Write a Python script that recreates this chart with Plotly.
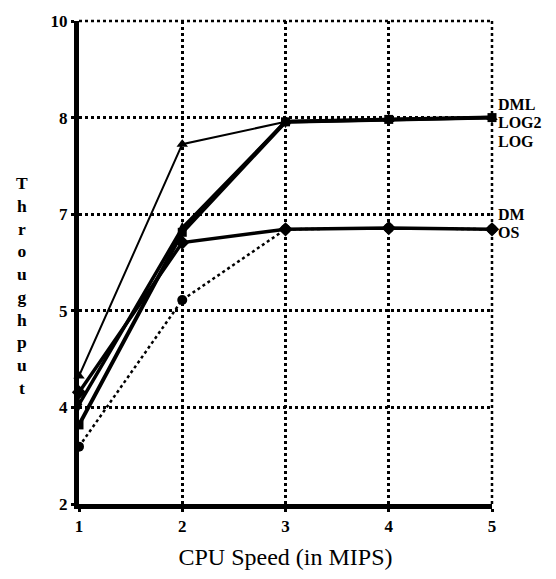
import plotly.graph_objects as go

cpu_speed = [1, 2, 3, 4, 5]
dml = [4.12, 7.96, 8.33, 8.37, 8.40]
log2 = [3.65, 6.57, 8.33, 8.37, 8.40]
log = [3.31, 6.50, 8.33, 8.37, 8.40]
dm = [3.85, 6.33, 6.55, 6.57, 6.55]
os_ = [2.95, 5.38, 6.55, 6.57, 6.55]

y_tickvals = [2, 3.6, 5.2, 6.8, 8.4, 10]
y_ticktext = ["2", "4", "5", "7", "8", "10"]
x_tickvals = [1, 2, 3, 4, 5]

label_names = ["DML", "LOG2", "LOG", "DM", "OS"]
label_y = [8.62, 8.32, 8.01, 6.8, 6.49]

y_title = "Throughput"

# plot area in pixels
L, R, T, B = 79, 64, 15, 74
W, H = 556, 579
PW, PH = W - L - R, H - T - B

fig = go.Figure()

def add(y, width, dash, symbol, size):
    fig.add_trace(go.Scatter(
        x=cpu_speed, y=y, mode="lines+markers",
        line=dict(color="black", width=width, dash=dash),
        marker=dict(color="black", symbol=symbol, size=size),
        cliponaxis=False, showlegend=False))

add(os_, 2.5, "dot", "circle", 10)
add(dm, 3.5, "solid", "diamond", 11)
add(log, 4, "solid", "square", 9)
add(log2, 3.5, "solid", "diamond-tall", 9)
add(dml, 2, "solid", "triangle-up", 10)

serif = "Liberation Serif"

for name, yy in zip(label_names, label_y):
    fig.add_annotation(x=1, xref="paper", y=yy, yref="y", text="<b>%s</b>" % name,
                       showarrow=False, xanchor="left", xshift=4,
                       font=dict(family=serif, size=16, color="black"))

# stacked vertical title
center_px = 182 + 4.5 * 22.5
fig.add_annotation(x=(22 - L) / PW, xref="paper", y=(H - B - center_px) / PH, yref="paper",
                   text="<b>" + "<br>".join(list(y_title)) + "</b>", showarrow=False,
                   xanchor="center", yanchor="middle", align="center",
                   font=dict(family=serif, size=17.5, color="black"))

fig.update_xaxes(range=[1, 5], tickvals=x_tickvals, ticktext=["<b>%s</b>" % v for v in x_tickvals],
                 showgrid=True, gridcolor="black", gridwidth=2.5, griddash="dot",
                 showline=True, linecolor="black", linewidth=5,
                 ticks="outside", ticklen=3, tickwidth=3, tickcolor="black",
                 tickfont=dict(family=serif, size=17, color="black"),
                 title=dict(text="CPU Speed (in MIPS)", font=dict(family=serif, size=24, color="black"), standoff=14),
                 zeroline=False)
fig.update_yaxes(range=[2, 10], tickvals=y_tickvals, ticktext=["<b>%s</b>" % t for t in y_ticktext],
                 showgrid=True, gridcolor="black", gridwidth=2.5, griddash="dot",
                 showline=True, linecolor="black", linewidth=5,
                 ticks="outside", ticklen=3, tickwidth=3, tickcolor="black",
                 tickfont=dict(family=serif, size=17, color="black"),
                 zeroline=False)

# dotted top and right borders
fig.add_shape(type="line", xref="paper", yref="paper", x0=0, x1=1, y0=1, y1=1,
              line=dict(color="black", width=2.5, dash="dot"))
fig.add_shape(type="line", xref="paper", yref="paper", x0=1, x1=1, y0=0, y1=1,
              line=dict(color="black", width=2.5, dash="dot"))

fig.update_layout(width=W, height=H, margin=dict(l=L, r=R, t=T, b=B),
                  plot_bgcolor="white", paper_bgcolor="white")

fig.write_html("out.html")
